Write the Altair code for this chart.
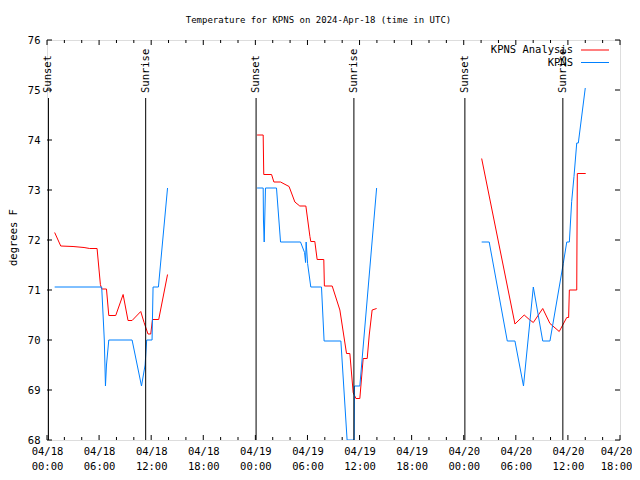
import altair as alt
import pandas as pd

# ---------------- data ----------------
# KPNS observations (blue), three separate runs
obs_time_1 = ["2024-04-18 00:53", "2024-04-18 06:18", "2024-04-18 06:36", "2024-04-18 06:44",
              "2024-04-18 06:51", "2024-04-18 07:07", "2024-04-18 09:48", "2024-04-18 10:53",
              "2024-04-18 11:18", "2024-04-18 11:29", "2024-04-18 12:06", "2024-04-18 12:13",
              "2024-04-18 12:50", "2024-04-18 13:53"]
obs_temp_1 = [71.06, 71.06, 70.0, 69.08, 69.5, 70.0, 70.0, 69.08, 69.5, 70.0, 70.0, 71.06, 71.06, 73.04]

obs_time_2 = ["2024-04-19 00:12", "2024-04-19 00:54", "2024-04-19 00:56", "2024-04-19 01:01",
              "2024-04-19 01:10", "2024-04-19 02:26", "2024-04-19 02:54", "2024-04-19 05:12",
              "2024-04-19 05:40", "2024-04-19 05:47", "2024-04-19 05:51", "2024-04-19 06:01",
              "2024-04-19 06:23", "2024-04-19 07:37", "2024-04-19 07:55", "2024-04-19 09:51",
              "2024-04-19 10:34", "2024-04-19 11:23", "2024-04-19 11:25", "2024-04-19 12:02",
              "2024-04-19 13:58"]
obs_temp_2 = [73.04, 73.04, 72.4, 71.96, 73.04, 73.04, 71.96, 71.96, 71.75, 71.55, 71.96, 71.53,
              71.06, 71.06, 69.98, 69.98, 68.0, 68.0, 69.08, 69.08, 73.04]

obs_time_3 = ["2024-04-20 02:04", "2024-04-20 02:56", "2024-04-20 05:01", "2024-04-20 05:54",
              "2024-04-20 06:53", "2024-04-20 08:01", "2024-04-20 09:06", "2024-04-20 09:56",
              "2024-04-20 11:28", "2024-04-20 11:52", "2024-04-20 12:10", "2024-04-20 12:26",
              "2024-04-20 12:42", "2024-04-20 13:01", "2024-04-20 13:12", "2024-04-20 14:00"]
obs_temp_3 = [71.96, 71.96, 69.98, 69.98, 69.08, 71.06, 69.98, 69.98, 71.53, 71.96, 71.96, 72.77,
              73.27, 73.94, 73.94, 75.04]

# KPNS Analysis (red), three separate runs
ana_time_1 = ["2024-04-18 00:53", "2024-04-18 01:35", "2024-04-18 03:00", "2024-04-18 04:16",
              "2024-04-18 04:55", "2024-04-18 05:46", "2024-04-18 06:09", "2024-04-18 06:18",
              "2024-04-18 06:51", "2024-04-18 07:07", "2024-04-18 07:55", "2024-04-18 08:46",
              "2024-04-18 09:20", "2024-04-18 09:48", "2024-04-18 10:48", "2024-04-18 11:11",
              "2024-04-18 11:38", "2024-04-18 11:57", "2024-04-18 12:09", "2024-04-18 12:52",
              "2024-04-18 13:53"]
ana_temp_1 = [72.15, 71.88, 71.87, 71.85, 71.83, 71.83, 71.11, 71.02, 71.02, 70.49, 70.49, 70.91,
              70.39, 70.39, 70.57, 70.35, 70.12, 70.12, 70.41, 70.41, 71.31]

ana_time_2 = ["2024-04-19 00:12", "2024-04-19 00:54", "2024-04-19 00:58", "2024-04-19 01:52",
              "2024-04-19 02:08", "2024-04-19 02:54", "2024-04-19 03:53", "2024-04-19 04:33",
              "2024-04-19 05:07", "2024-04-19 05:49", "2024-04-19 06:17", "2024-04-19 06:23",
              "2024-04-19 06:51", "2024-04-19 07:07", "2024-04-19 07:53", "2024-04-19 07:57",
              "2024-04-19 08:51", "2024-04-19 09:44", "2024-04-19 10:30", "2024-04-19 10:53",
              "2024-04-19 11:16", "2024-04-19 11:35", "2024-04-19 12:02", "2024-04-19 12:25",
              "2024-04-19 12:53", "2024-04-19 13:07", "2024-04-19 13:27", "2024-04-19 13:58"]
ana_temp_2 = [74.1, 74.1, 73.31, 73.31, 73.16, 73.16, 73.07, 72.76, 72.68, 72.68, 72.07, 71.97,
              71.97, 71.61, 71.61, 71.08, 71.08, 70.6, 69.73, 69.73, 68.95, 68.83, 68.83, 69.63,
              69.63, 70.1, 70.6, 70.63]

ana_time_3 = ["2024-04-20 02:04", "2024-04-20 05:54", "2024-04-20 06:58", "2024-04-20 07:33",
              "2024-04-20 08:01", "2024-04-20 09:06", "2024-04-20 09:56", "2024-04-20 11:00",
              "2024-04-20 11:28", "2024-04-20 11:52", "2024-04-20 12:05", "2024-04-20 12:10",
              "2024-04-20 13:01", "2024-04-20 13:05", "2024-04-20 14:03"]
ana_temp_3 = [73.63, 70.32, 70.5, 70.41, 70.35, 70.63, 70.33, 70.17, 70.32, 70.45, 70.45, 71.0,
              71.0, 73.33, 73.33]

# sunrise / sunset markers
sun_time = ["2024-04-18 00:10", "2024-04-18 11:22", "2024-04-19 00:05",
            "2024-04-19 11:21", "2024-04-20 00:08", "2024-04-20 11:25"]
sun_label = ["Sunset", "Sunrise", "Sunset", "Sunrise", "Sunset", "Sunrise"]

series_names = ["KPNS Analysis", "KPNS"]
series_colors = ["#ff0000", "#0080ff"]

y_ticks = [68, 69, 70, 71, 72, 73, 74, 75, 76]
x_start, x_end = "2024-04-18 00:00", "2024-04-20 18:00"
title_text = "Temperature for KPNS on 2024-Apr-18 (time in UTC)"

# ---------------- build tables ----------------
rows = []
for name, runs in [("KPNS Analysis", [(ana_time_1, ana_temp_1), (ana_time_2, ana_temp_2), (ana_time_3, ana_temp_3)]),
                   ("KPNS", [(obs_time_1, obs_temp_1), (obs_time_2, obs_temp_2), (obs_time_3, obs_temp_3)])]:
    for i, (ts, vs) in enumerate(runs):
        for t, v in zip(ts, vs):
            rows.append({"time": t, "temp": v, "series": name, "seg": f"{name}-{i}"})
df = pd.DataFrame(rows)
df["time"] = pd.to_datetime(df["time"]).dt.strftime("%Y-%m-%dT%H:%M:%S")

sun_df = pd.DataFrame({"time": pd.to_datetime(sun_time).strftime("%Y-%m-%dT%H:%M:%S"), "label": sun_label})

major = pd.date_range(x_start, x_end, freq="6h")
minor = pd.date_range(x_start, x_end, freq="2h")
minor = minor[~minor.isin(major)]
major_df = pd.DataFrame({"time": major.strftime("%Y-%m-%dT%H:%M:%S")})
minor_df = pd.DataFrame({"time": minor.strftime("%Y-%m-%dT%H:%M:%S")})
ytick_df = pd.DataFrame({"v": y_ticks})

W, H = 573, 400
FONT = "DejaVu Sans Mono"
FS = 10.5

x_scale = alt.Scale(domain=[pd.Timestamp(x_start).isoformat(), pd.Timestamp(x_end).isoformat()])
y_scale = alt.Scale(domain=[68, 76], nice=False, zero=False)

x_axis_vals = [alt.DateTime(year=t.year, month=t.month, date=t.day, hours=t.hour) for t in major]

x_enc = alt.X("time:T", scale=x_scale,
              axis=alt.Axis(values=x_axis_vals, ticks=False, domain=False, grid=False,
                            labelExpr="[timeFormat(datum.value, '%m/%d'), timeFormat(datum.value, '%H:%M')]",
                            labelFont=FONT, labelFontSize=FS, labelColor="black", labelPadding=6,
                            labelLineHeight=15, labelOverlap=False, labelFlush=False, title=None,
                            labelOffset={"condition": {"test": "datum.index >= 0.999", "value": -4},
                                         "value": 0}))
y_enc = alt.Y("temp:Q", scale=y_scale,
              axis=alt.Axis(values=y_ticks, ticks=False, domain=False, grid=False,
                            labelFont=FONT, labelFontSize=FS, labelColor="black", labelPadding=7,
                            title="degrees F", titleFont=FONT, titleFontSize=FS, titleFontWeight="normal",
                            titleColor="black", titleX=-34, titleY=197, titleAngle=270,
                            titleAlign="center", titleBaseline="middle"))

lines = alt.Chart(df).mark_line(strokeWidth=1, clip=True).encode(
    x=x_enc, y=y_enc,
    color=alt.Color("series:N", scale=alt.Scale(domain=series_names, range=series_colors), legend=None),
    detail="seg:N",
)

sun_rules = alt.Chart(sun_df).mark_rule(color="black", strokeWidth=1).encode(
    x=alt.X("time:T", scale=x_scale), y=alt.value(58), y2=alt.value(H))
sun_text = alt.Chart(sun_df).mark_text(angle=270, align="left", baseline="middle",
                                       font=FONT, fontSize=FS, color="black").encode(
    x=alt.X("time:T", scale=x_scale), y=alt.value(53), text="label:N")

def xticks(data, y0, y1):
    return alt.Chart(data).mark_rule(color="black", strokeWidth=1).encode(
        x=alt.X("time:T", scale=x_scale), y=alt.value(y0), y2=alt.value(y1))

def yticks(x0, x1):
    return alt.Chart(ytick_df).mark_rule(color="black", strokeWidth=1).encode(
        y=alt.Y("v:Q", scale=y_scale), x=alt.value(x0), x2=alt.value(x1))

ticks = [xticks(major_df, H, H - 5), xticks(major_df, 0, 5),
         xticks(minor_df, H, H - 3), xticks(minor_df, 0, 3),
         yticks(0, 5), yticks(W - 5, W)]

legend_layers = []
for i, (name, col) in enumerate(zip(series_names, series_colors)):
    yy = 10 + 12.5 * i
    one = pd.DataFrame({"series": [name]})
    legend_layers.append(alt.Chart(one).mark_text(align="right", baseline="middle", font=FONT,
                                                  fontSize=FS, color="black").encode(
        text="series:N", x=alt.value(526), y=alt.value(yy)))
    legend_layers.append(alt.Chart(one).mark_rule(color=col, strokeWidth=1).encode(
        x=alt.value(534), x2=alt.value(562), y=alt.value(yy)))

chart = alt.layer(lines, sun_rules, sun_text, *ticks, *legend_layers).properties(
    width=W, height=H,
    title=alt.TitleParams(title_text, font=FONT, fontSize=9, fontWeight="normal", color="black",
                          anchor="middle", dx=-15, offset=10),
    padding={"left": 39, "top": 32, "right": 12, "bottom": 32},
    autosize=alt.AutoSizeParams(type="none"),
).configure_view(stroke="black", strokeWidth=1).configure(background="white")

chart.save("out.html", embed_options={"renderer": "svg", "actions": False})
